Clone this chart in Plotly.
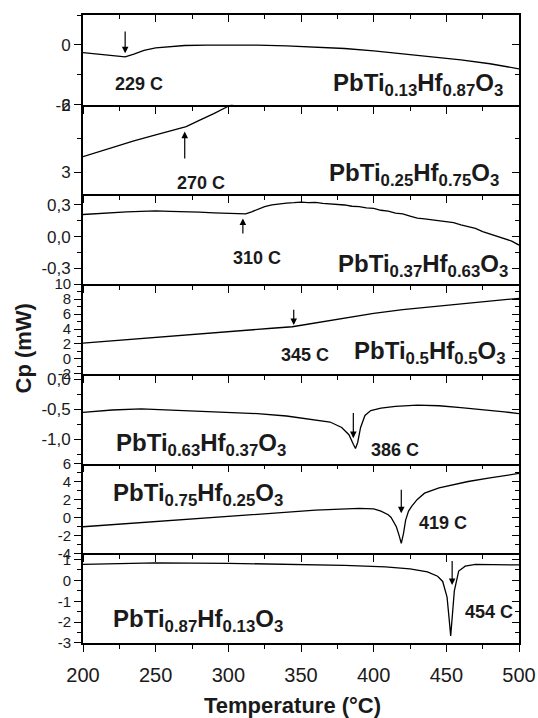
import plotly.graph_objects as go

# ---------------- data ----------------
x_tickvals = [200, 250, 300, 350, 400, 450, 500]
x_ticktext = ["200", "250", "300", "350", "400", "450", "500"]

compounds = [
    "PbTi<sub>0.13</sub>Hf<sub>0.87</sub>O<sub>3</sub>",
    "PbTi<sub>0.25</sub>Hf<sub>0.75</sub>O<sub>3</sub>",
    "PbTi<sub>0.37</sub>Hf<sub>0.63</sub>O<sub>3</sub>",
    "PbTi<sub>0.5</sub>Hf<sub>0.5</sub>O<sub>3</sub>",
    "PbTi<sub>0.63</sub>Hf<sub>0.37</sub>O<sub>3</sub>",
    "PbTi<sub>0.75</sub>Hf<sub>0.25</sub>O<sub>3</sub>",
    "PbTi<sub>0.87</sub>Hf<sub>0.13</sub>O<sub>3</sub>",
]

t1 = [200, 215, 225, 229, 235, 242, 250, 260, 270, 285, 300, 320, 340, 360, 380, 400, 420, 440, 460, 480, 500]
cp1 = [-0.26, -0.32, -0.37, -0.40, -0.31, -0.18, -0.10, -0.05, -0.02, -0.01, 0.0, -0.01, -0.03, -0.07, -0.12, -0.2, -0.3, -0.4, -0.5, -0.63, -0.8]

t2 = [200, 215, 235, 250, 271, 280, 290, 302, 320]
cp2 = [3.68, 3.98, 4.39, 4.65, 5.02, 5.3, 5.6, 6.0, 6.6]

t3 = [200, 210, 220, 230, 240, 250, 260, 270, 280, 290, 300, 305, 312, 316, 320, 325, 330, 335, 340, 345,
      350, 355, 360, 365, 370, 375, 380, 385, 390, 395, 400, 405, 410, 415, 420, 425, 430, 435, 440, 445,
      450, 455, 460, 465, 470, 475, 480, 485, 490, 495, 500]
cp3 = [0.21, 0.22, 0.228, 0.235, 0.24, 0.245, 0.24, 0.238, 0.232, 0.225, 0.218, 0.215, 0.215, 0.235, 0.26, 0.285, 0.30, 0.31, 0.318, 0.322,
       0.328, 0.322, 0.325, 0.315, 0.312, 0.305, 0.300, 0.288, 0.285, 0.272, 0.268, 0.250, 0.242, 0.222, 0.215, 0.195, 0.175, 0.168, 0.160, 0.148,
       0.140, 0.132, 0.112, 0.098, 0.078, 0.048, 0.025, 0.008, -0.015, -0.042, -0.080]

t4 = [200, 250, 300, 330, 344, 360, 380, 400, 420, 440, 460, 480, 500]
cp4 = [2.1, 2.9, 3.65, 4.1, 4.3, 4.8, 5.45, 6.1, 6.6, 7.0, 7.4, 7.75, 8.1]

t5 = [200, 220, 240, 260, 280, 300, 320, 340, 360, 370, 378, 383, 386, 387.5, 389, 391, 394, 398, 405, 415, 430, 445, 460, 470, 480, 490, 500]
cp5 = [-0.55, -0.51, -0.49, -0.51, -0.54, -0.56, -0.57, -0.61, -0.67, -0.71, -0.8, -0.92, -1.08, -1.15, -1.05, -0.8, -0.6, -0.52, -0.48, -0.45, -0.43, -0.44, -0.47, -0.49, -0.52, -0.54, -0.57]

t6 = [200, 250, 300, 330, 360, 390, 400, 405, 410, 412, 415.6, 417.5, 419, 420.5, 422, 424, 426, 430, 435, 445, 465, 480, 500]
cp6 = [-1.04, -0.48, 0.13, 0.5, 0.8, 1.0, 0.95, 0.7, 0.3, 0.0, -1.04, -2.0, -2.9, -1.8, -0.3, 0.7, 1.2, 2.0, 2.7, 3.3, 4.0, 4.4, 4.9]

t7 = [200, 250, 300, 350, 380, 408, 425, 437, 444, 447.5, 450.5, 452, 453, 454, 455.5, 458.5, 463, 470, 485, 500]
cp7 = [0.77, 0.84, 0.82, 0.78, 0.72, 0.65, 0.55, 0.41, 0.2, -0.05, -0.8, -1.9, -2.66, -1.8, -0.5, 0.45, 0.68, 0.77, 0.76, 0.74]

series_t = [t1, t2, t3, t4, t5, t6, t7]
series_cp = [cp1, cp2, cp3, cp4, cp5, cp6, cp7]

y_ranges = [[-2, 1], [2, 6], [-0.45, 0.4], [-2, 10], [-1.4, 0.09], [-4, 6], [-3, 1.3]]
y_tickvals = [[-2, 0], [3, 6], [-0.3, 0.0, 0.3], [-2, 0, 2, 4, 6, 8, 10], [-1.0, -0.5, 0.0], [-4, -2, 0, 2, 4, 6], [-3, -2, -1, 0, 1]]
y_ticktext = [["-2", "0"], ["3", "6"], ["-0,3", "0,0", "0,3"], ["-2", "0", "2", "4", "6", "8", "10"],
              ["-1,0", "-0,5", "0,0"], ["-4", "-2", "0", "2", "4", "6"], ["-3", "-2", "-1", "0", "1"]]
y_minor = [1, 1.5, 0.15, 1, 0.25, 1, 0.5]
y_fontsize = [17, 17, 17, 15, 17, 15, 15]

transitions = [229, 270, 310, 345, 386, 419, 454]
trans_labels = ["229 C", "270 C", "310 C", "345 C", "386 C", "419 C", "454 C"]
arrow_tail = [0.5, 3.53, 0.015, 6.76, -0.537, 3.25, 1.0]
arrow_head = [-0.28, 4.8, 0.173, 4.53, -0.978, 0.46, -0.22]

# ---------------- layout helpers ----------------
W, H = 538, 718
L, R, TOP, BOT = 83, 19, 15, 75
PW, PH = W - L - R, H - TOP - BOT
N = 7


def px(xp):
    return (xp - L) / PW


def py(yp):
    return (H - BOT - yp) / PH


trans_label_pos = [(138.5, 84), (200.5, 183.3), (256.5, 258.3), (305.2, 355), (395.2, 450), (442.5, 523.3), (488.5, 611.7)]
comp_pos = [(505, 84, "right"), (501, 174, "right"), (509.7, 265, "right"), (508, 352.5, "right"),
            (114.3, 444, "left"), (111, 494, "left"), (111, 620.7, "left")]

FONT = "Liberation Sans, Arial, sans-serif"
TXT = "#1a1a1a"
fig = go.Figure()
layout = dict(
    template="none",
    width=W, height=H,
    margin=dict(l=L, r=R, t=TOP, b=BOT, autoexpand=False),
    paper_bgcolor="white", plot_bgcolor="white",
    showlegend=False,
    font=dict(family=FONT, color=TXT),
)
annotations = []

for i in range(N):
    k = i + 1
    xa = "x" if k == 1 else f"x{k}"
    ya = "y" if k == 1 else f"y{k}"
    fig.add_trace(go.Scatter(x=series_t[i], y=series_cp[i], mode="lines",
                             line=dict(color="black", width=1.3),
                             xaxis=xa, yaxis=ya, hoverinfo="skip"))
    d_top = 1 - i / N
    d_bot = 1 - (i + 1) / N
    xdict = dict(
        domain=[0, 1], anchor=ya, range=[200, 500], automargin=False,
        showline=True, linecolor="black", linewidth=1.8, mirror=False,
        ticks="outside", ticklen=7, tickwidth=1.4, tickcolor="black",
        tickvals=x_tickvals, ticktext=x_ticktext,
        minor=dict(tickmode="linear", tick0=200, dtick=25, ticks="outside", ticklen=4, tickwidth=1.2, tickcolor="black"),
        showticklabels=(k == N), tickfont=dict(size=20, family=FONT, color=TXT),
        showgrid=False, zeroline=False,
    )
    if k == N:
        xdict["ticklabelstandoff"] = 6
    layout[f"xaxis{k}" if k > 1 else "xaxis"] = xdict
    layout[f"yaxis{k}" if k > 1 else "yaxis"] = dict(
        domain=[d_bot, d_top], anchor=xa, range=y_ranges[i], automargin=False,
        showline=True, linecolor="black", linewidth=1.8, mirror=True,
        ticks="outside", ticklen=7, tickwidth=1.4, tickcolor="black",
        tickvals=y_tickvals[i], ticktext=y_ticktext[i],
        minor=dict(tickmode="linear", tick0=0, dtick=y_minor[i], ticks="outside", ticklen=4, tickwidth=1.2, tickcolor="black"),
        tickfont=dict(size=y_fontsize[i], family=FONT, color=TXT),
        showgrid=False, zeroline=False,
    )
    rk = N + 1 + i
    layout[f"yaxis{rk}"] = dict(
        overlaying=ya, side="right", anchor=xa, range=y_ranges[i], automargin=False,
        showline=False, ticks="inside", ticklen=7, tickwidth=1.4, tickcolor="black",
        tickvals=y_tickvals[i], showticklabels=False,
        minor=dict(tickmode="linear", tick0=0, dtick=y_minor[i], ticks="inside", ticklen=4, tickwidth=1.2, tickcolor="black"),
        showgrid=False, zeroline=False,
    )
    fig.add_trace(go.Scatter(x=[None], y=[None], xaxis=xa, yaxis=f"y{rk}", hoverinfo="skip", showlegend=False))

    annotations.append(dict(
        x=transitions[i], y=arrow_head[i], xref=xa, yref=ya,
        ax=transitions[i], ay=arrow_tail[i], axref=xa, ayref=ya,
        showarrow=True, arrowhead=2, arrowsize=1.1, arrowwidth=1.2, arrowcolor="black", text="",
    ))
    lx, ly = trans_label_pos[i]
    annotations.append(dict(
        x=px(lx), y=py(ly), xref="paper", yref="paper", showarrow=False,
        text=f"<b>{trans_labels[i]}</b>", font=dict(size=18, family=FONT, color=TXT),
        xanchor="center", yanchor="middle",
    ))
    cx, cy, anc = comp_pos[i]
    annotations.append(dict(
        x=px(cx), y=py(cy), xref="paper", yref="paper", showarrow=False,
        text=f"<b>{compounds[i]}</b>", font=dict(size=24, family=FONT, color=TXT),
        xanchor=anc, yanchor="middle",
    ))

layout["xaxis15"] = dict(
    overlaying="x", side="top", anchor="y", range=[200, 500], automargin=False,
    showline=True, linecolor="black", linewidth=1.8,
    ticks="inside", ticklen=7, tickwidth=1.4, tickcolor="black",
    tickvals=x_tickvals, showticklabels=False,
    minor=dict(tickmode="linear", tick0=200, dtick=25, ticks="inside", ticklen=4, tickwidth=1.2, tickcolor="black"),
    showgrid=False, zeroline=False,
)
fig.add_trace(go.Scatter(x=[None], y=[None], xaxis="x15", yaxis="y", hoverinfo="skip", showlegend=False))

annotations.append(dict(
    x=px(22.5), y=py(349), xref="paper", yref="paper", showarrow=False, textangle=-90,
    text="<b>Cp (mW)</b>", font=dict(size=22, family=FONT, color=TXT),
    xanchor="center", yanchor="middle",
))
annotations.append(dict(
    x=px(292.5), y=py(705), xref="paper", yref="paper", showarrow=False,
    text="<b>Temperature (°C)</b>", font=dict(size=22, family=FONT, color=TXT),
    xanchor="center", yanchor="middle",
))
layout["annotations"] = annotations
fig.update_layout(**layout)
fig.write_html("out.html")
